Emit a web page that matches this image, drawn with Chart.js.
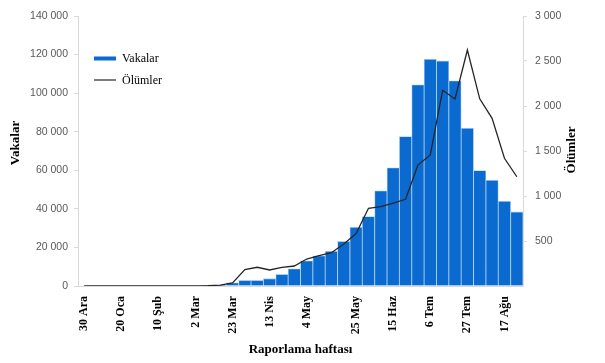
<!DOCTYPE html>
<html><head><meta charset="utf-8">
<script src="https://cdn.jsdelivr.net/npm/chart.js@4"></script>
<style>html,body{margin:0;padding:0;background:#fff}#wrap{width:605px;height:363px}</style>
</head><body><div id="wrap"><canvas id="c" width="605" height="363"></canvas></div>
<script>
// Weekly categories (only some weeks carry a visible tick label, as in the reference)
const categories = ['30 Ara','','','20 Oca','','','10 Şub','','','2 Mar','','','23 Mar','','','13 Nis','','','4 May','','','','25 May','','','15 Haz','','','6 Tem','','','27 Tem','','','17 Ağu',''];
// Vakalar (cases) per week
const cases = [0,0,0,0,0,0,0,0,0,0,30,200,1700,2900,2900,3800,6000,8900,13100,15700,18000,23100,30500,36000,49400,61300,77500,104300,117600,116700,106400,81800,59900,54800,43900,38400];
// Ölümler (deaths) per week
const deaths = [0,0,0,0,0,0,0,0,0,1,3,10,35,183,208,178,208,222,300,337,370,467,583,863,883,922,963,1344,1456,2175,2078,2622,2080,1863,1419,1214];
const leftAxis = {min:0, max:140000, step:20000};
const rightAxis = {min:0, max:3000, step:500};
const titles = {x:'Raporlama haftası', left:'Vakalar', right:'Ölümler'};

const fmt = v => String(v).replace(/\B(?=(\d{3})+(?!\d))/g, ' ');
const tickFont = {family:'Liberation Sans', size:10.5};
const serifBold = {family:'Liberation Serif', size:13, weight:'bold'};

const extras = {
  id:'extras',
  afterDraw(chart){
    const c = chart.ctx;
    c.save();
    c.fillStyle = '#000';
    c.font = 'bold 13px "Liberation Serif"';
    c.textAlign = 'center';
    c.textBaseline = 'middle';
    c.save(); c.translate(16,143); c.rotate(-Math.PI/2); c.fillText(titles.left,0,0); c.restore();
    c.save(); c.translate(572,150); c.rotate(-Math.PI/2); c.fillText(titles.right,0,0); c.restore();
    // legend
    const ds = chart.data.datasets;
    const bar = ds.find(d=>d.type==='bar'), line = ds.find(d=>d.type==='line');
    c.font = '12px "Liberation Serif"';
    c.textAlign = 'left';
    c.fillStyle = bar.backgroundColor;
    c.fillRect(94,56.5,22,4);
    c.fillStyle = '#000';
    c.fillText(bar.label,122,58.5);
    c.strokeStyle = line.borderColor; c.lineWidth = 1.2;
    c.beginPath(); c.moveTo(94,80); c.lineTo(116,80); c.stroke();
    c.fillText(line.label,122,80.5);
    c.restore();
  }
};

new Chart(document.getElementById('c'), {
  data:{
    labels: categories,
    datasets:[
      {type:'line', label:'Ölümler', data:deaths, yAxisID:'y2', borderColor:'#262626', borderWidth:1.3, pointRadius:0, tension:0, order:0},
      {type:'bar', label:'Vakalar', data:cases, yAxisID:'y', backgroundColor:'#0a6ad0', borderColor:'#a8cdf2', borderWidth:0.8, categoryPercentage:1, barPercentage:1, order:1}
    ]
  },
  options:{
    responsive:false, animation:false,
    layout:{padding:{top:16,left:0,right:0,bottom:0}},
    plugins:{legend:{display:false}, tooltip:{enabled:false}},
    scales:{
      x:{
        offset:true,
        grid:{display:false, drawTicks:false},
        border:{display:true, color:'#d9d9d9'},
        ticks:{autoSkip:false, maxRotation:90, minRotation:90, padding:10, font:{family:'Liberation Serif', size:12, weight:'bold'}, color:'#000'},
        title:{display:true, text:titles.x, font:serifBold, color:'#000', padding:{top:0,bottom:6}},
        afterFit(s){ s.height = 77; }
      },
      y:{
        position:'left', min:leftAxis.min, max:leftAxis.max,
        ticks:{stepSize:leftAxis.step, callback:v=>fmt(v), padding:6, font:tickFont, color:'#595959'},
        grid:{drawOnChartArea:false, tickLength:4, color:'#d9d9d9'},
        border:{color:'#d9d9d9'},
        afterFit(s){ s.width = 78; }
      },
      y2:{
        position:'right', min:rightAxis.min, max:rightAxis.max,
        ticks:{stepSize:rightAxis.step, callback:v=> v===0 ? '' : fmt(v), padding:8, font:tickFont, color:'#595959'},
        grid:{drawOnChartArea:false, tickLength:4, color:ctx=> (ctx.tick && ctx.tick.value===0) ? 'rgba(0,0,0,0)' : '#d9d9d9'},
        border:{color:'#d9d9d9'},
        afterFit(s){ s.width = 82; }
      }
    }
  },
  plugins:[extras]
});
</script>
</body></html>
